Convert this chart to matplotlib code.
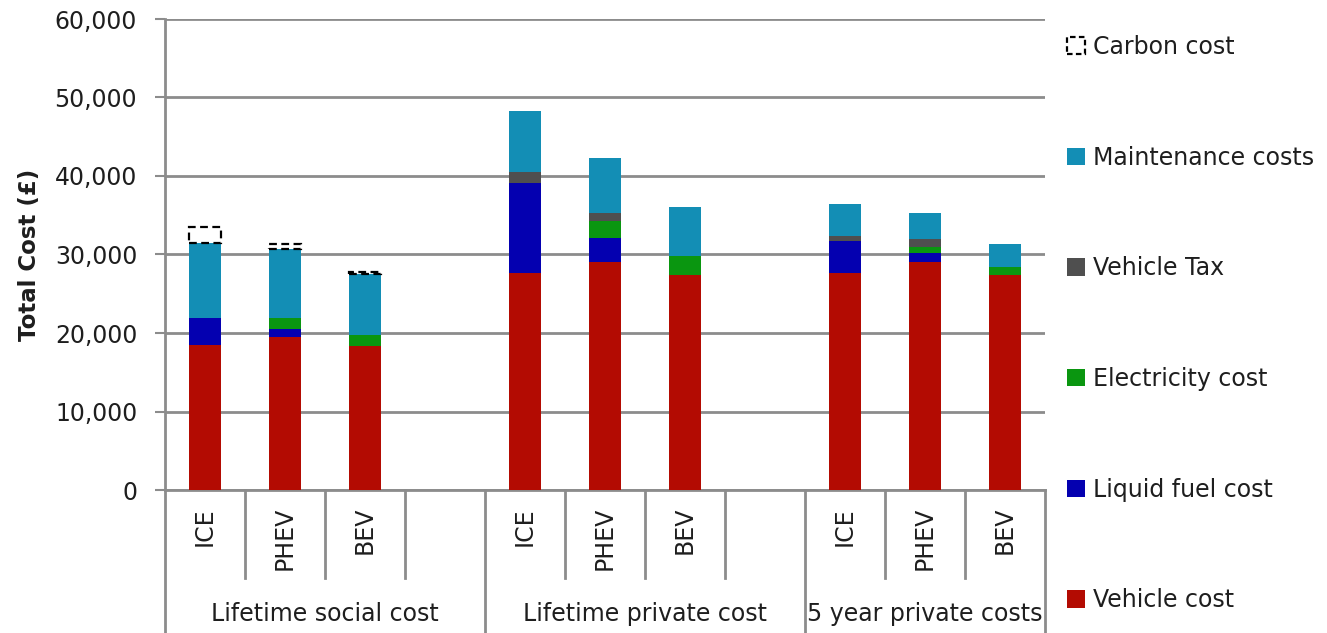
import matplotlib
matplotlib.use("Agg")
import matplotlib.pyplot as plt
from matplotlib.patches import Patch
from matplotlib.ticker import FuncFormatter, MultipleLocator
import matplotlib.transforms as mtransforms

plt.rcParams['font.family'] = ['DejaVu Sans']

# Category slots: three vehicle types per scenario, blank slot between scenarios
slot_labels = ['ICE', 'PHEV', 'BEV', '', 'ICE', 'PHEV', 'BEV', '', 'ICE', 'PHEV', 'BEV']
groups = ['Lifetime social cost', 'Lifetime private cost', '5 year private costs']
group_start = [0, 4, 8]   # first slot of each scenario

# Cost components (£) per slot
vehicle_cost = [18500, 19500, 18400, 0, 27600, 29000, 27400, 0, 27600, 29000, 27400]
liquid_fuel = [3400, 1000, 0, 0, 11500, 3150, 0, 0, 4100, 1150, 0]
electricity = [0, 1450, 1400, 0, 0, 2100, 2400, 0, 0, 800, 1000]
vehicle_tax = [0, 0, 0, 0, 1350, 1100, 0, 0, 650, 1000, 0]
maintenance = [9600, 8700, 7700, 0, 7850, 7000, 6200, 0, 4050, 3400, 2900]
carbon_cost = [2000, 650, 300, 0, 0, 0, 0, 0, 0, 0, 0]

series = [
    ('Vehicle cost', vehicle_cost, '#B30B02'),
    ('Liquid fuel cost', liquid_fuel, '#0400B0'),
    ('Electricity cost', electricity, '#0A9610'),
    ('Vehicle Tax', vehicle_tax, '#4F4F4F'),
    ('Maintenance costs', maintenance, '#138EB5'),
]

W, H = 1327, 633
fig = plt.figure(figsize=(W / 100, H / 100), dpi=100)
ax = fig.add_axes([165 / W, 1 - 490 / H, 880 / W, 471 / H])

n = len(slot_labels)
x = list(range(n))
bar_w = 0.4
fs = 17
text_col = '#1e1e1e'
grid_col = '#8c8c8c'

bottom = [0] * n
for name, vals, col in series:
    ax.bar(x, vals, bar_w, bottom=bottom, color=col, zorder=3)
    bottom = [b + v for b, v in zip(bottom, vals)]

# Carbon cost drawn as a dashed outline on top of each stack
cx = [xi for xi, c in zip(x, carbon_cost) if c > 0]
cb = [b for b, c in zip(bottom, carbon_cost) if c > 0]
cv = [c for c in carbon_cost if c > 0]
ax.bar(cx, cv, bar_w, bottom=cb, fill=False, edgecolor='black',
       linewidth=1.6, linestyle=(0, (3.5, 2)), zorder=4)

ax.set_xlim(-0.5, n - 0.5)
ax.set_ylim(0, 60000)
ax.yaxis.set_major_locator(MultipleLocator(10000))
ax.yaxis.set_major_formatter(FuncFormatter(lambda v, p: f'{int(v):,}'))
ax.grid(axis='y', color=grid_col, linewidth=2, zorder=0)
ax.set_axisbelow(True)

for s in ['top', 'right']:
    ax.spines[s].set_visible(False)
for s in ['left', 'bottom']:
    ax.spines[s].set_color(grid_col)
    ax.spines[s].set_linewidth(2)

ax.tick_params(axis='y', length=7, width=1.5, color=grid_col, pad=13,
               labelsize=fs, labelcolor=text_col)
ax.set_xticks([])

ax.set_ylabel('Total Cost (£)', fontsize=16.5, fontweight='bold', color=text_col, labelpad=10)

# Category axis: slot dividers, rotated vehicle labels and scenario labels
trans = mtransforms.blended_transform_factory(ax.transData, ax.transAxes)
group_edges = [g - 0.5 for g in group_start] + [n - 0.5]
for k in range(n + 1):
    edge = k - 0.5
    y_end = -0.304 if edge in group_edges else -0.187
    ax.plot([edge, edge], [0, y_end], transform=trans, color=grid_col,
            linewidth=2, clip_on=False, zorder=1)

for xi, lab in zip(x, slot_labels):
    if lab:
        ax.text(xi, -0.036, lab, transform=trans, rotation=90, ha='center', va='top',
                fontsize=fs, color=text_col)

for name, lo, hi in zip(groups, group_edges[:-1], group_edges[1:]):
    ax.text((lo + hi) / 2, -0.263, name, transform=trans, ha='center', va='center',
            fontsize=fs, color=text_col)

# Legend, top entry first
handles = [Patch(facecolor='none', edgecolor='black', linewidth=1.6,
                 linestyle=(0, (2.5, 1.5)), label='Carbon cost')]
for name, vals, col in reversed(series):
    handles.append(Patch(facecolor=col, edgecolor='none', label=name))
fig.legend(handles=handles, loc='upper left', bbox_to_anchor=(1067 / W, 1 - 35 / H),
           frameon=False, fontsize=fs, labelspacing=3.67, handlelength=0.75,
           handleheight=0.75, handletextpad=0.35, borderpad=0, borderaxespad=0,
           labelcolor=text_col)

fig.savefig('out.png', dpi=100)
